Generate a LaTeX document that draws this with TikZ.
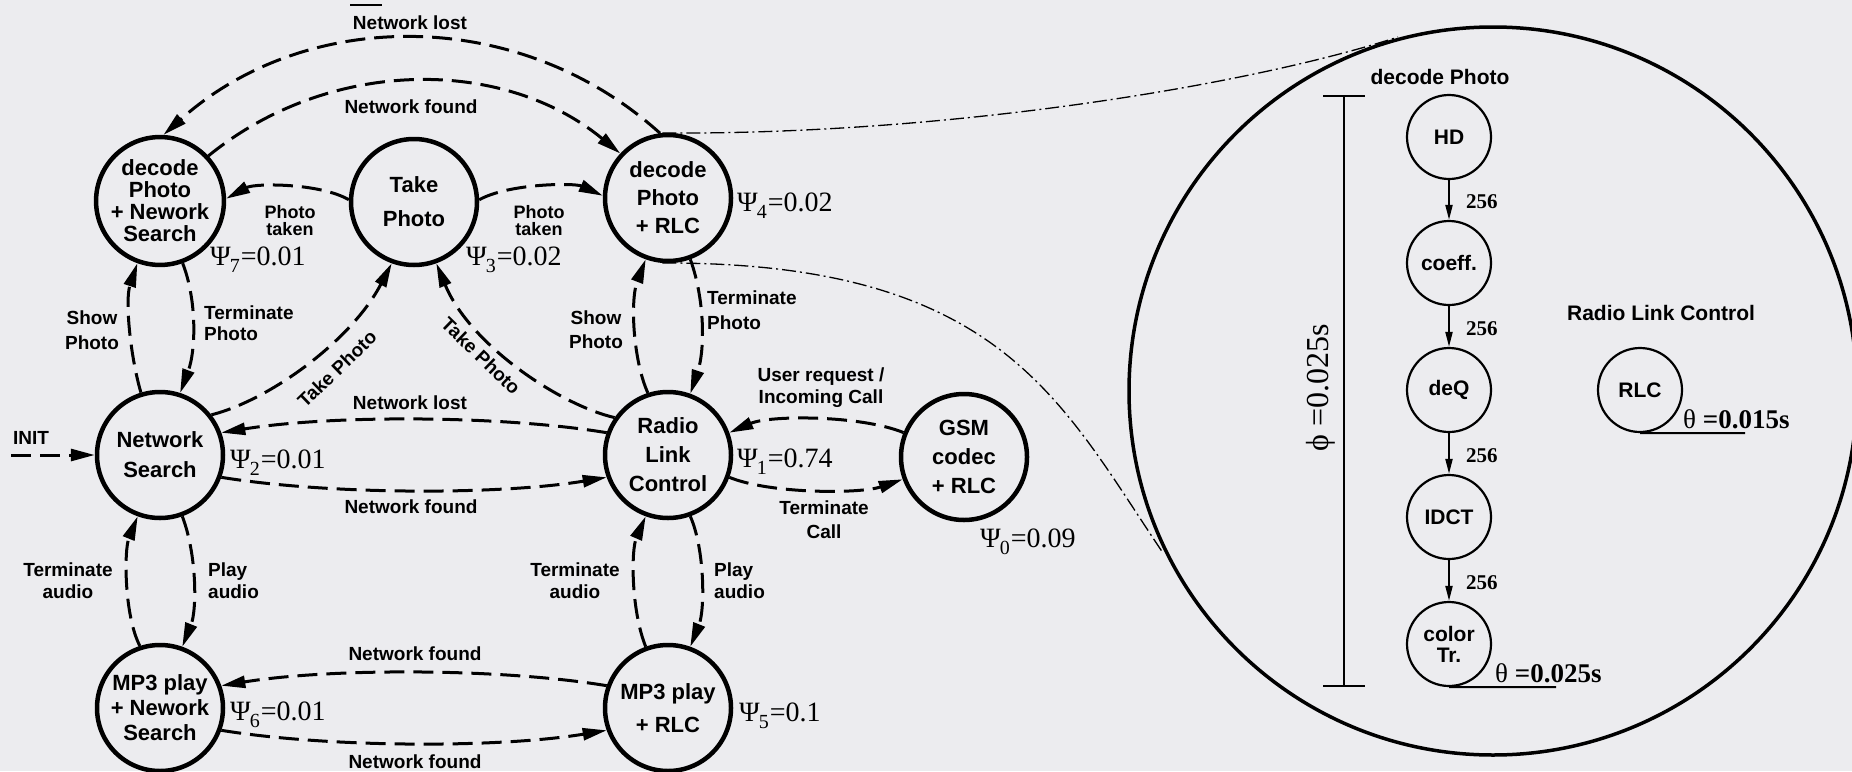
\documentclass[tikz,border=0pt]{standalone}
\usepackage{fontspec}
\setmainfont{Liberation Sans}
\newfontfamily\serif{Liberation Serif}
\usetikzlibrary{arrows.meta}
\definecolor{bg}{RGB}{236,236,239}
% state weight label: Psi_k = value
\newcommand\psilab[2]{{\serif\fontsize{28}{28}\selectfont Ψ\kern-1pt\raisebox{-7pt}{\fontsize{20}{20}\selectfont #1}\kern1pt=#2}}
\begin{document}
\begin{tikzpicture}[x=1pt,y=-1pt,
  state/.style={circle,draw,line width=4.5pt,minimum size=126pt,inner sep=0pt,align=center},
  sub/.style={circle,draw,line width=2.2pt,minimum size=84pt,inner sep=0pt,align=center,
    font=\fontsize{21}{21}\selectfont\bfseries},
  trans/.style={line width=3pt,dash pattern=on 20pt off 9pt,-{Triangle[length=24pt,width=12pt]}},
  flow/.style={line width=2pt,-{Triangle[length=15pt,width=7pt]}},
  lab/.style={font=\fontsize{19}{22}\selectfont\bfseries,align=center,inner sep=0pt},
  psi/.style={anchor=base west,inner sep=0pt},
  zoomline/.style={line width=1.3pt,dash pattern=on 14pt off 4pt on 2pt off 4pt},
  dim/.style={line width=1.2pt}]

% background and page size
\fill[bg] (0,0) rectangle (1852,771);
\useasboundingbox (0,0) rectangle (1852,771);

% ---------------- state machine ----------------
\node[state,font=\fontsize{22}{22}\selectfont\bfseries] (n7) at (160,201) {decode\\Photo\\+ Nework\\Search};
\node[state,font=\fontsize{22}{34}\selectfont\bfseries] (n3) at (414,202) {Take\\Photo};
\node[state,font=\fontsize{22}{28}\selectfont\bfseries] (n4) at (668,198) {decode\\Photo\\+ RLC};
\node[state,font=\fontsize{22}{30}\selectfont\bfseries] (n2) at (160,455) {Network\\Search};
\node[state,font=\fontsize{22}{29}\selectfont\bfseries] (n1) at (668,455) {Radio\\Link\\Control};
\node[state,font=\fontsize{22}{29}\selectfont\bfseries] (n0) at (964,457) {GSM\\codec\\+ RLC};
\node[state,font=\fontsize{22}{25}\selectfont\bfseries] (n6) at (160,708) {MP3 play\\+ Nework\\Search};
\node[state,font=\fontsize{22}{33}\selectfont\bfseries] (n5) at (668,708) {MP3 play\\+ RLC};

% weights
\node[psi] (p7) at (210,265) {\psilab{7}{0.01}};
\node[psi] (p3) at (466,265) {\psilab{3}{0.02}};
\node[psi] (p4) at (737,211) {\psilab{4}{0.02}};
\node[psi] (p2) at (230,468) {\psilab{2}{0.01}};
\node[psi] (p1) at (737,467) {\psilab{1}{0.74}};
\node[psi] (p0) at (980,547) {\psilab{0}{0.09}};
\node[psi] (p6) at (230,720) {\psilab{6}{0.01}};
\node[psi] (p5) at (739,721) {\psilab{5}{0.1}};

% transitions
\draw[trans] (n4.97) .. controls (518,5) and (305,8) .. (n7.87);
\draw[trans] (n7.43) .. controls (330,57) and (503,57) .. (n4.137);
\draw[trans] (n3.178) .. controls (320,183) and (255,183) .. (n7.2);
\draw[trans] (n3.2) .. controls (510,183) and (575,183) .. (n4.178);
\draw[trans] (n2.107) .. controls (130,355) and (125,300) .. (n7.250);
\draw[trans] (n7.290) .. controls (197,300) and (196,350) .. (n2.72);
\draw[trans] (n2.38) .. controls (270,400) and (352,340) .. (n3.250);
\draw[trans] (n1.145) .. controls (560,405) and (470,345) .. (n3.290);
\draw[trans] (n1.160) .. controls (500,415) and (330,415) .. (n2.20);
\draw[trans] (n2.340) .. controls (330,495) and (500,495) .. (n1.200);
\coordinate (init) at (11,455);
\draw[trans] (init) -- (n2.west);
\draw[trans] (n1.108) .. controls (633,360) and (630,300) .. (n4.250);
\draw[trans] (n4.290) .. controls (705,300) and (705,350) .. (n1.70);
\draw[trans] (n0.158) .. controls (860,415) and (770,415) .. (n1.20);
\draw[trans] (n1.340) .. controls (770,494) and (860,494) .. (n0.200);
\draw[trans] (n2.290) .. controls (197,555) and (197,610) .. (n6.70);
\draw[trans] (n6.108) .. controls (124,615) and (124,550) .. (n2.250);
\draw[trans] (n1.290) .. controls (705,550) and (705,610) .. (n5.70);
\draw[trans] (n5.110) .. controls (631,610) and (631,550) .. (n1.250);
\draw[trans] (n5.160) .. controls (500,668) and (330,668) .. (n6.20);
\draw[trans] (n6.340) .. controls (330,748) and (500,748) .. (n5.200);

% transition labels
\draw[line width=1.5pt] (350,5) -- (382,5);
\node[lab] (l1) at (410,23) {Network lost};
\node[lab] (l2) at (411,107) {Network found};
\node[lab,font=\fontsize{18}{17}\selectfont\bfseries] (l3) at (290,221) {Photo\\taken};
\node[lab,font=\fontsize{18}{17}\selectfont\bfseries] (l4) at (539,221) {Photo\\taken};
\node[lab,font=\fontsize{19}{25}\selectfont\bfseries] (l5) at (92,330) {Show\\Photo};
\node[lab,align=left,anchor=west,font=\fontsize{19}{21}\selectfont\bfseries] (l6) at (204,323) {Terminate\\Photo};
\node[lab,rotate=44] (l7) at (337,369) {Take Photo};
\node[lab,rotate=-44] (l8) at (481,356) {Take Photo};
\node[lab] (l9) at (410,403) {Network lost};
\node[lab] (l10) at (411,507) {Network found};
\node[lab] (l11) at (31,438) {INIT};
\node[lab,font=\fontsize{19}{24}\selectfont\bfseries] (l12) at (596,330) {Show\\Photo};
\node[lab,align=left,anchor=west,font=\fontsize{19}{25}\selectfont\bfseries] (l13) at (707,310) {Terminate\\Photo};
\node[lab,font=\fontsize{19}{22}\selectfont\bfseries] (l14) at (821,388) {User request /\\Incoming Call};
\node[lab,font=\fontsize{19}{24}\selectfont\bfseries] (l15) at (824,520) {Terminate\\Call};
\node[lab] (l16) at (68,581) {Terminate\\audio};
\node[lab,align=left,anchor=west] (l17) at (208,581) {Play\\audio};
\node[lab] (l18) at (575,581) {Terminate\\audio};
\node[lab,align=left,anchor=west] (l19) at (714,581) {Play\\audio};
\node[lab] (l20) at (415,654) {Network found};
\node[lab] (l21) at (415,762) {Network found};

% ---------------- magnified view ----------------
\node[circle,draw,line width=3.5pt,minimum size=728pt,inner sep=0pt,outer sep=0pt] (zoom) at (1493,391) {};
\coordinate (ztop) at (1398,37);
\coordinate (zbot) at (1163,553);
\draw[zoomline] (n4.95) .. controls (950,135) and (1250,85) .. (ztop);
\draw[zoomline] (n4.265) .. controls (1000,262) and (1060,400) .. (zbot);

\node[lab,font=\fontsize{21}{21}\selectfont\bfseries] (dp) at (1440,77) {decode Photo};
\node[sub] (hd) at (1449,137) {HD};
\node[sub] (cf) at (1449,263) {coeff.};
\node[sub] (dq) at (1449,390) {deQ};
\node[sub] (idct) at (1449,517) {IDCT};
\node[sub] (ct) at (1449,644) {color\\Tr.};
\foreach \a/\b in {hd/cf,cf/dq,dq/idct,idct/ct}
  \draw[flow] (\a) -- (\b) node[pos=0.55,anchor=west,xshift=16pt,inner sep=0pt,
    font=\serif\fontsize{21}{21}\selectfont\bfseries] {256};

\node[lab,font=\fontsize{21}{21}\selectfont\bfseries] (rl) at (1661,313) {Radio Link Control};
\node[sub] (rlc) at (1640,390) {RLC};

% execution times
\coordinate (ctend) at (1556,687);
\coordinate (rlcend) at (1745,433);
\draw[line width=2pt] (ct.south) -- (ctend);
\draw[line width=2pt] (rlc.south) -- (rlcend);
\node[psi] (th1) at (1495,682) {\serif\fontsize{27}{27}\selectfont θ \textbf{=0.025s}};
\node[psi] (th2) at (1683,428) {\serif\fontsize{27}{27}\selectfont θ \textbf{=0.015s}};

% period
\coordinate (dtop) at (1344,96);
\coordinate (dbot) at (1344,686);
\draw[dim] (dtop) -- (dbot);
\draw[dim] (1323,96) -- (1365,96);
\draw[dim] (1323,686) -- (1365,686);
\node[rotate=90,inner sep=0pt] (phi) at (1321,388) {\serif\fontsize{32}{32}\selectfont ϕ =0.025s};
\end{tikzpicture}
\end{document}
